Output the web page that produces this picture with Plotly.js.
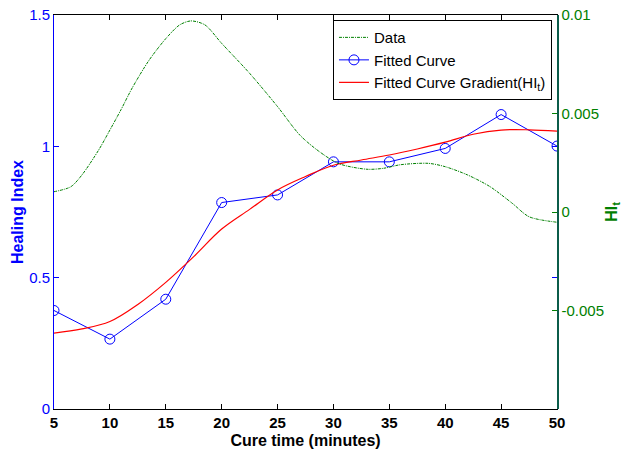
<!DOCTYPE html>
<html>
<head>
<meta charset="utf-8">
<script src="https://cdn.plot.ly/plotly-3.0.1.min.js"></script>
<style>html,body{margin:0;padding:0;background:#fff;}#chart{width:622px;height:456px;}</style>
</head>
<body>
<div id="chart"></div>
<script>
// Blue series: Healing Index (left axis)
const cureTime = [5, 10, 15, 20, 25, 30, 35, 40, 45, 50];
const healingIndex = [0.375, 0.266, 0.418, 0.786, 0.815, 0.941, 0.941, 0.992, 1.121, 1.001];

// Red smooth fitted curve (left axis)
const fitX = [5, 7.5, 10, 12.5, 15, 17.5, 20, 22.5, 25, 27.5, 30, 32.5, 35, 37.5, 40, 42.5, 45, 47.5, 50];
const fitY = [0.289, 0.305, 0.333, 0.398, 0.482, 0.58, 0.685, 0.76, 0.834, 0.885, 0.928, 0.948, 0.967, 0.99, 1.016, 1.046, 1.062, 1.063, 1.058];

// Green gradient curve (right axis)
const gradX = [5, 6.5, 7.5, 9, 10, 11, 12, 13.5, 15, 16.25, 17.25, 18.5, 20, 22.5, 25, 27, 28.75, 30.5, 33, 34.5, 36, 38.5, 40, 42, 44, 46, 47.5, 50];
const gradY = [0.00103, 0.00128, 0.00188, 0.00315, 0.00416, 0.0052, 0.0063, 0.0077, 0.0088, 0.0095, 0.0097, 0.0095, 0.00856, 0.00704, 0.00535, 0.0039, 0.00306, 0.00245, 0.00217, 0.00222, 0.00240, 0.00247, 0.0023, 0.00188, 0.00129, 0.00044, -0.00024, -0.00052];

const xTicks = [5, 10, 15, 20, 25, 30, 35, 40, 45, 50];
const yTicks = [0, 0.5, 1, 1.5];
const yTickText = ['0', '0.5', '1', '1.5'];
const y2Ticks = [-0.005, 0, 0.005, 0.01];
const y2TickText = ['-0.005', '0', '0.005', '0.01'];

const FONT = 'Liberation Sans, Arial, sans-serif';
const GREEN = '#008000';
const BLUE = '#0000ff';

const traces = [
  {
    x: gradX, y: gradY, yaxis: 'y2', name: 'Data', mode: 'lines',
    line: {color: GREEN, width: 1, dash: '3px,1px,1px,1px', shape: 'spline', smoothing: 0.8}
  },
  {
    x: cureTime, y: healingIndex, name: 'Fitted Curve', mode: 'lines+markers',
    line: {color: BLUE, width: 1},
    marker: {symbol: 'circle-open', size: 10, color: BLUE, line: {width: 1, color: BLUE}}
  },
  {
    x: fitX, y: fitY, name: 'Fitted Curve Gradient(HI<sub>t</sub>)', mode: 'lines',
    line: {color: '#ff0000', width: 1.2, shape: 'spline', smoothing: 1}
  }
];

const layout = {
  width: 622, height: 456,
  margin: {l: 54, r: 65, t: 15, b: 47},
  paper_bgcolor: '#fff', plot_bgcolor: '#fff',
  font: {family: FONT, size: 15, color: '#000'},
  showlegend: true,
  legend: {
    x: 0.99, xanchor: 'right', y: 0.987, yanchor: 'top',
    bgcolor: '#fff', bordercolor: '#000', borderwidth: 1,
    font: {family: FONT, size: 15, color: '#000'},
    tracegroupgap: 0
  },
  xaxis: {
    range: [5, 50], tickvals: xTicks, ticktext: xTicks.map(String),
    ticks: 'inside', ticklen: 5, tickcolor: '#000', showline: true, linecolor: '#000', linewidth: 1,
    mirror: 'ticks', showgrid: false, zeroline: false,
    tickfont: {family: FONT, size: 15, color: '#000', weight: 'bold'},
    title: {text: 'Cure time (minutes)', font: {family: FONT, size: 16, color: '#000', weight: 'bold'}, standoff: 4}
  },
  yaxis: {
    range: [0, 1.5], tickvals: yTicks, ticktext: yTickText,
    ticks: 'inside', ticklen: 5, tickcolor: BLUE, showline: true, linecolor: BLUE, linewidth: 1,
    mirror: 'ticks', showgrid: false, zeroline: false,
    tickfont: {family: FONT, size: 15, color: BLUE},
    title: {text: 'Healing Index', font: {family: FONT, size: 16, color: BLUE, weight: 'bold'}, standoff: 1}
  },
  yaxis2: {
    overlaying: 'y', side: 'right', range: [-0.01, 0.01],
    tickvals: y2Ticks, ticktext: y2TickText,
    ticks: 'inside', ticklen: 5, tickcolor: GREEN, showline: true, linecolor: '#0b5c4a', linewidth: 1.5,
    showgrid: false, zeroline: false,
    tickfont: {family: FONT, size: 15, color: GREEN},
    title: {text: 'HI<sub>t</sub>', font: {family: FONT, size: 16, color: GREEN, weight: 'bold'}, standoff: 6}
  }
};

Plotly.newPlot('chart', traces, layout, {displayModeBar: false, staticPlot: true});
</script>
</body>
</html>
